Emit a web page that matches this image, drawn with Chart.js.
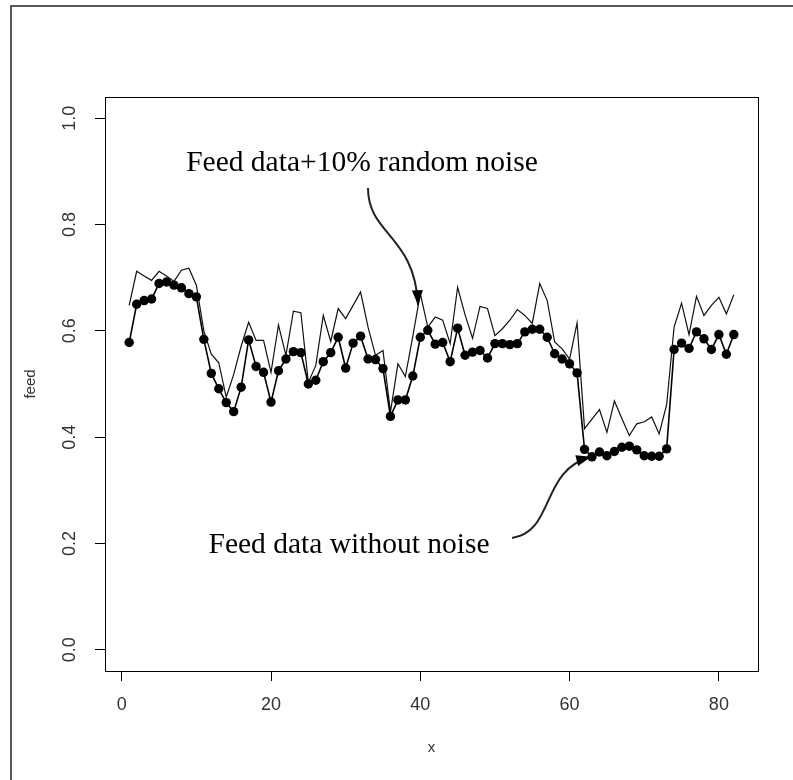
<!DOCTYPE html>
<html>
<head>
<meta charset="utf-8">
<script src="https://cdn.jsdelivr.net/npm/chart.js@4.4.1/dist/chart.umd.min.js"></script>
<style>
  html, body { margin: 0; padding: 0; background: #fff; }
  #wrap { width: 793px; height: 780px; }
</style>
</head>
<body>
<div id="wrap"><canvas id="feedChart" width="793" height="780"></canvas></div>
<script>
// sample index
const xIndex = [
  1, 2, 3, 4, 5, 6, 7, 8, 9, 10, 11, 12, 13, 14, 15, 16, 17, 18, 19, 20,
  21, 22, 23, 24, 25, 26, 27, 28, 29, 30, 31, 32, 33, 34, 35, 36, 37, 38, 39, 40,
  41, 42, 43, 44, 45, 46, 47, 48, 49, 50, 51, 52, 53, 54, 55, 56, 57, 58, 59, 60,
  61, 62, 63, 64, 65, 66, 67, 68, 69, 70, 71, 72, 73, 74, 75, 76, 77, 78, 79, 80,
  81, 82
];

// feed without noise (points)
const feedClean = [
  0.578, 0.650, 0.657, 0.660, 0.689, 0.692, 0.686, 0.681, 0.670, 0.664,
  0.584, 0.520, 0.491, 0.465, 0.448, 0.494, 0.583, 0.533, 0.522, 0.466,
  0.525, 0.547, 0.561, 0.559, 0.500, 0.507, 0.542, 0.559, 0.588, 0.530,
  0.577, 0.590, 0.547, 0.546, 0.529, 0.439, 0.470, 0.470, 0.515, 0.588,
  0.601, 0.575, 0.578, 0.542, 0.605, 0.554, 0.560, 0.563, 0.549, 0.576,
  0.576, 0.574, 0.576, 0.598, 0.603, 0.603, 0.588, 0.557, 0.547, 0.538,
  0.521, 0.377, 0.363, 0.372, 0.365, 0.373, 0.381, 0.383, 0.376, 0.365,
  0.364, 0.364, 0.378, 0.565, 0.577, 0.567, 0.598, 0.585, 0.565, 0.593,
  0.556, 0.593
];

// feed + 10% random noise (thin line)
const feedNoisy = [
  0.648, 0.712, 0.703, 0.695, 0.712, 0.703, 0.693, 0.714, 0.718, 0.686,
  0.600, 0.556, 0.540, 0.475, 0.518, 0.571, 0.616, 0.582, 0.582, 0.522,
  0.611, 0.554, 0.637, 0.634, 0.503, 0.535, 0.629, 0.580, 0.642, 0.623,
  0.648, 0.673, 0.607, 0.554, 0.563, 0.447, 0.538, 0.514, 0.590, 0.670,
  0.607, 0.626, 0.620, 0.576, 0.682, 0.630, 0.586, 0.646, 0.642, 0.591,
  0.604, 0.620, 0.640, 0.629, 0.614, 0.689, 0.657, 0.579, 0.566, 0.547,
  0.615, 0.416, 0.434, 0.452, 0.409, 0.468, 0.435, 0.403, 0.425, 0.429,
  0.438, 0.406, 0.461, 0.607, 0.652, 0.593, 0.665, 0.629, 0.648, 0.663,
  0.632, 0.668
];

const xTicks = [0, 20, 40, 60, 80];
const yTicks = [0.0, 0.2, 0.4, 0.6, 0.8, 1.0];

const sansFont = 'Liberation Sans, Arial, sans-serif';
const serifFont = 'Liberation Serif, Times New Roman, serif';

// white page, outer frame, plot box and the two notes with arrows
const framePlugin = {
  id: 'frame',
  beforeDraw(chart) {
    const c = chart.ctx;
    c.save();
    c.fillStyle = '#fff';
    c.fillRect(0, 0, chart.width, chart.height);
    c.restore();
  },
  afterDraw(chart) {
    const c = chart.ctx;
    const a = chart.chartArea;
    const xs = chart.scales.x, ys = chart.scales.y;
    c.save();
    c.strokeStyle = '#000';
    c.lineWidth = 1;
    c.strokeRect(a.left + 0.5, a.top + 0.5, a.right - a.left, a.bottom - a.top);

    c.lineWidth = 1.5;
    c.strokeStyle = '#222';
    c.beginPath();
    c.moveTo(11, chart.height + 5);
    c.lineTo(11, 6);
    c.lineTo(chart.width + 5, 6);
    c.stroke();

    c.fillStyle = '#000';
    c.font = '29.5px ' + serifFont;
    c.textAlign = 'center';
    c.textBaseline = 'alphabetic';
    c.fillText('Feed data+10% random noise', 362, 171);
    c.fillText('Feed data without noise', 349, 553);

    const arrow = (p0, c1, c2, p3) => {
      c.lineWidth = 2;
      c.beginPath();
      c.moveTo(p0[0], p0[1]);
      c.bezierCurveTo(c1[0], c1[1], c2[0], c2[1], p3[0], p3[1]);
      c.stroke();
      const ang = Math.atan2(p3[1] - c2[1], p3[0] - c2[0]);
      const len = 15, half = 5.5;
      c.beginPath();
      c.moveTo(p3[0], p3[1]);
      c.lineTo(p3[0] - len * Math.cos(ang) + half * Math.sin(ang), p3[1] - len * Math.sin(ang) - half * Math.cos(ang));
      c.lineTo(p3[0] - len * Math.cos(ang) - half * Math.sin(ang), p3[1] - len * Math.sin(ang) + half * Math.cos(ang));
      c.closePath();
      c.fill();
    };
    // arrow tips point at the curves
    const tipTop = [xs.getPixelForValue(39.7), ys.getPixelForValue(0.648)];
    const tipLow = [xs.getPixelForValue(62.9), ys.getPixelForValue(0.363)];
    arrow([368, 188], [368, 235], [415, 235], tipTop);
    arrow([512, 538], [555, 532], [540, 470], tipLow);
    c.restore();
  }
};

const ctx = document.getElementById('feedChart').getContext('2d');
new Chart(ctx, {
  type: 'line',
  data: {
    datasets: [
      {
        label: 'Feed data without noise',
        data: xIndex.map((x, i) => ({ x: x, y: feedClean[i] })),
        borderColor: '#000',
        borderWidth: 1.6,
        pointRadius: 4.7,
        pointBackgroundColor: '#000',
        pointBorderWidth: 0,
        tension: 0
      },
      {
        label: 'Feed data+10% random noise',
        data: xIndex.map((x, i) => ({ x: x, y: feedNoisy[i] })),
        borderColor: '#111',
        borderWidth: 1.2,
        pointRadius: 0,
        tension: 0
      }
    ]
  },
  options: {
    responsive: false,
    animation: false,
    layout: { padding: { left: 10, top: 97, right: 35, bottom: 9 } },
    plugins: {
      legend: { display: false },
      tooltip: { enabled: false }
    },
    scales: {
      x: {
        type: 'linear',
        min: -2.24,
        max: 85.24,
        afterBuildTicks: s => { s.ticks = xTicks.map(v => ({ value: v })); },
        afterFit: s => { s.height = 100; },
        border: { display: false },
        grid: { drawOnChartArea: false, drawTicks: true, tickLength: 10, color: '#000', tickWidth: 1 },
        ticks: {
          font: { family: sansFont, size: 18 },
          color: '#333',
          padding: 13,
          maxRotation: 0
        },
        title: {
          display: true,
          text: 'x',
          font: { family: sansFont, size: 15 },
          color: '#333',
          padding: { top: 0, bottom: 14 }
        }
      },
      y: {
        type: 'linear',
        min: -0.04,
        max: 1.04,
        afterBuildTicks: s => { s.ticks = yTicks.map(v => ({ value: v })); },
        afterFit: s => { s.width = 95; },
        border: { display: false },
        grid: { drawOnChartArea: false, drawTicks: true, tickLength: 10, color: '#000', tickWidth: 1 },
        ticks: {
          font: { family: sansFont, size: 18 },
          color: '#333',
          padding: 12,
          minRotation: 90,
          maxRotation: 90,
          crossAlign: 'center',
          callback: v => v.toFixed(1)
        },
        title: {
          display: true,
          text: 'feed',
          font: { family: sansFont, size: 15 },
          color: '#333',
          padding: { top: 12, bottom: 0 }
        }
      }
    }
  },
  plugins: [framePlugin]
});
</script>
</body>
</html>
